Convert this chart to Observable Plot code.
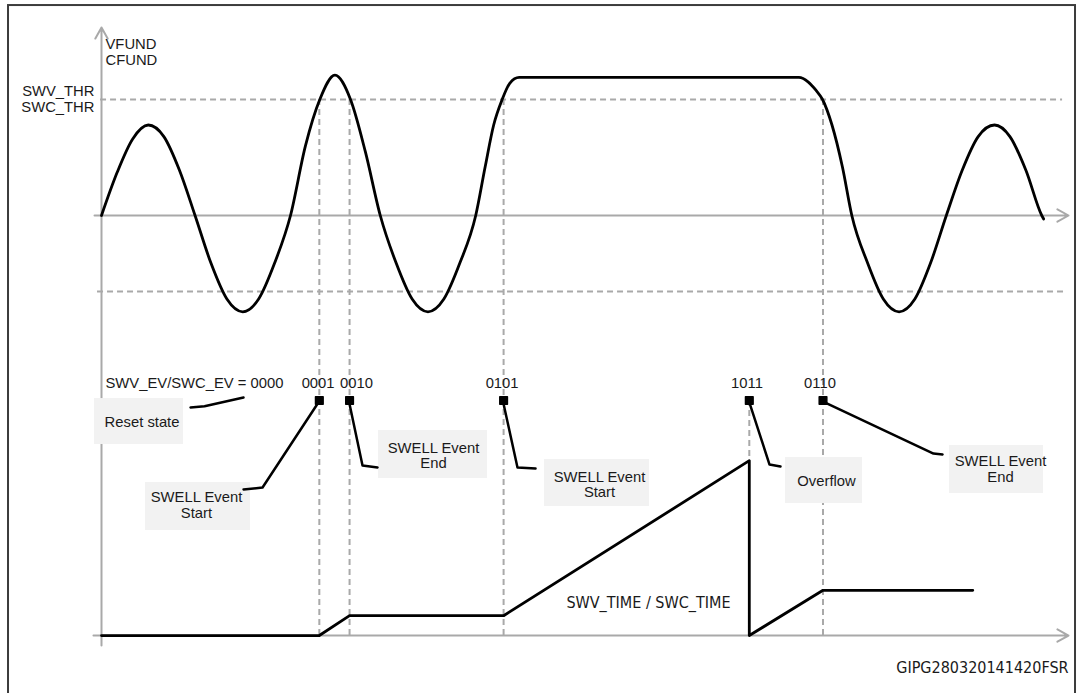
<!DOCTYPE html>
<html><head><meta charset="utf-8">
<script src="https://cdn.jsdelivr.net/npm/d3@7"></script>
<script src="https://cdn.jsdelivr.net/npm/@observablehq/plot@0.6"></script>
<style>
html,body{margin:0;padding:0;background:#fff;overflow:hidden;}
#chart svg{display:block;}
</style></head><body><div id="chart"></div>
<script>
// ---- Data ----
// Fundamental waveform VFUND / CFUND : time (ms) and amplitude (SWV_THR / SWC_THR = 1)
const waveTime  = [0, 1.65, 3.3, 4.95, 6.6, 8.25, 9.9,
                   11.58, 13.27, 14.95, 16.63, 18.32, 20,
                   21.58, 23.1, 24.7, 26.35, 27.92, 29.5,
                   31.18, 32.87, 34.55, 36.23, 37.92, 39.6,
                   40.6, 41.5, 42.4, 43.2, 44.2, 50, 60, 70, 73.8, 74.8, 75.6, 76.3, 77.3, 78.4, 79.4,
                   81.07, 82.73, 84.4, 86.07, 87.73, 89.4,
                   91.08, 92.77, 94.5, 96.13, 97.82, 99.5, 99.7];
const waveValue = [0, 0.37, 0.66, 0.78, 0.68, 0.39, 0,
                   -0.41, -0.72, -0.83, -0.72, -0.41, 0,
                   0.6, 1.0, 1.21, 1.0, 0.55, 0,
                   -0.41, -0.72, -0.83, -0.72, -0.41, 0,
                   0.42, 0.78, 1.0, 1.14, 1.19, 1.19, 1.19, 1.19, 1.19, 1.15, 1.08, 1.0, 0.78, 0.42, 0,
                   -0.41, -0.72, -0.83, -0.72, -0.41, 0,
                   0.39, 0.68, 0.78, 0.68, 0.39, 0, -0.03];
// SWV_TIME / SWC_TIME counter : time (ms) and counter value
const timerTime  = [0, 23.05, 26.25, 42.55, 68.55, 68.55, 76.35, 92.2];
const timerValue = [0, 0, 3.2, 3.2, 28.2, 0, 7.3, 7.3];
// SWV_EV / SWC_EV event codes and times (ms)
const eventCodes = ["0001", "0010", "0101", "1011", "0110"];
const eventTimes = [23.05, 26.25, 42.55, 68.55, 76.35];
// Callout texts
const calloutTexts = ["Reset state", "SWELL Event\nStart", "SWELL Event\nEnd", "SWELL Event\nStart", "Overflow", "SWELL Event\nEnd"];
const labels = {
  yAxis: "VFUND\nCFUND", thr: "SWV_THR\nSWC_THR", ev: "SWV_EV/SWC_EV = 0000",
  time: "SWV_TIME / SWC_TIME", caption: "GIPG280320141420FSR"
};

// ---- Layout (diagram units: x in ms, y in amplitude) ----
const THR = 1.0, SEP = -0.655, MARK_Y = -1.595, CODE_Y = -1.448;
const TIMER_BASE = -3.621, TIMER_UNIT = 0.05345;
const codeLabelT = [22.92, 26.98, 42.39, 68.31, 76.03];
const calloutLayout = [
  {box: [-0.74, 8.68, -1.578, -1.974], tx: 4.29, ty: -1.784, path: [[9.42, -1.655], [10.9, -1.645], [15.03, -1.569]]},
  {box: [4.66, 15.77, -2.302, -2.716], tx: 10.05, ty: -2.496, path: [[23.02, -1.603], [17.04, -2.345], [15.03, -2.362]]},
  {box: [29.31, 40.85, -1.853, -2.267], tx: 35.13, ty: -2.069, path: [[26.19, -1.603], [27.62, -2.155], [29.21, -2.172]]},
  {box: [46.88, 57.99, -2.103, -2.509], tx: 52.7, ty: -2.319, path: [[42.49, -1.603], [44.02, -2.172], [45.93, -2.181]]},
  {box: [72.38, 80.53, -2.086, -2.483], tx: 76.72, ty: -2.293, path: [[68.52, -1.603], [70.69, -2.147], [71.85, -2.164]]},
  {box: [89.74, 99.68, -1.983, -2.397], tx: 95.13, ty: -2.185, path: [[76.30, -1.603], [88.04, -2.052], [89.0, -2.060]]}
];

// ---- Tables ----
const wave = waveTime.map((t, i) => ({t, v: waveValue[i]}));
const timer = timerTime.map((t, i) => ({t, y: TIMER_BASE + timerValue[i] * TIMER_UNIT}));
const events = eventCodes.map((code, i) => ({code, t: eventTimes[i], lt: codeLabelT[i],
  peak: TIMER_BASE + timerValue[timerTime.indexOf(eventTimes[i])] * TIMER_UNIT}));
const callouts = calloutTexts.map((text, i) => ({text, ...calloutLayout[i]}));
const connectors = callouts.flatMap((c, i) => c.path.map(([t, y]) => ({id: i, t, y})));
const axes = [
  {x1: 0, y1: -3.707, x2: 0, y2: 1.621},
  {x1: -0.74, y1: 0, x2: 102.33, y2: 0},
  {x1: -0.85, y1: TIMER_BASE, x2: 102.33, y2: TIMER_BASE}
];

const GRAY = "#a9a9a9", INK = "#1a1a1a";
const FONT = "Liberation Sans, Arial, Helvetica, sans-serif";
const NARROW = "Liberation Sans Narrow, Arial Narrow, DejaVu Sans Condensed, sans-serif";
const dash = "6 4";
const FS = 14.8;

const chart = Plot.plot({
  width: 1082, height: 693, margin: 0,
  x: {domain: [-101 / 9.45, 981 / 9.45], range: [0, 1082], axis: null},
  y: {domain: [(215 - 693) / 116, 215 / 116], range: [693, 0], axis: null},
  style: {background: "#fff", fontFamily: FONT},
  marks: [
    // frame
    Plot.rect([0], {x1: -9.84, x2: 103.07, y1: 1.81, y2: -4.4, fill: "none", stroke: "#3c3c3c", strokeWidth: 2}),
    // dashed guides
    Plot.ruleY([THR], {x1: -0.1, x2: 101.7, stroke: GRAY, strokeWidth: 2, strokeDasharray: dash}),
    Plot.ruleY([SEP], {x1: -0.42, x2: 101.8, stroke: GRAY, strokeWidth: 2, strokeDasharray: dash}),
    Plot.ruleX(events.filter(d => d.code !== "1011"), {x: "t", y1: THR, y2: TIMER_BASE, stroke: GRAY, strokeWidth: 2, strokeDasharray: dash}),
    Plot.ruleX(events.filter(d => d.code === "1011"), {x: "t", y1: MARK_Y, y2: "peak", stroke: GRAY, strokeWidth: 2, strokeDasharray: dash}),
    // axes
    Plot.arrow(axes, {x1: "x1", y1: "y1", x2: "x2", y2: "y2", stroke: GRAY, strokeWidth: 2, headLength: 9.5, headAngle: 58}),
    // waveform and counter
    Plot.line(wave, {x: "t", y: "v", curve: "monotone-x", stroke: "#000", strokeWidth: 2.8}),
    Plot.line(timer, {x: "t", y: "y", stroke: "#000", strokeWidth: 2.8}),
    // callouts
    Plot.rect(callouts, {x1: d => d.box[0], x2: d => d.box[1], y1: d => d.box[2], y2: d => d.box[3], fill: "#f2f2f2"}),
    Plot.line(connectors, {x: "t", y: "y", z: "id", stroke: "#000", strokeWidth: 2.5}),
    Plot.text(callouts, {x: "tx", y: "ty", text: "text", fontSize: FS, lineHeight: 1.05, fill: INK}),
    Plot.dot(events, {x: "t", y: MARK_Y, symbol: "square", r: 4.3, fill: "#000", stroke: "#000", strokeWidth: 1.5, strokeLinejoin: "round"}),
    Plot.text(events, {x: "lt", y: CODE_Y, text: "code", fontSize: FS, fill: INK}),
    // labels
    Plot.text([labels.yAxis], {x: 0.42, y: 1.409, text: d => d, textAnchor: "start", fontSize: FS, lineHeight: 1.05, fill: INK}),
    Plot.text([labels.thr], {x: -0.74, y: 1.004, text: d => d, textAnchor: "end", fontSize: FS, lineHeight: 1.05, fill: INK}),
    Plot.text([labels.ev], {x: 0.42, y: CODE_Y, text: d => d, textAnchor: "start", fontSize: FS, fill: INK}),
    Plot.text([labels.time], {x: 57.88, y: -3.336, text: d => d, fontSize: 16, fontFamily: NARROW, fill: INK}),
    Plot.text([labels.caption], {x: 102.33, y: -3.897, text: d => d, textAnchor: "end", fontSize: 16, fontFamily: NARROW, fill: INK})
  ]
});
document.getElementById("chart").appendChild(chart);
</script>
</body></html>
